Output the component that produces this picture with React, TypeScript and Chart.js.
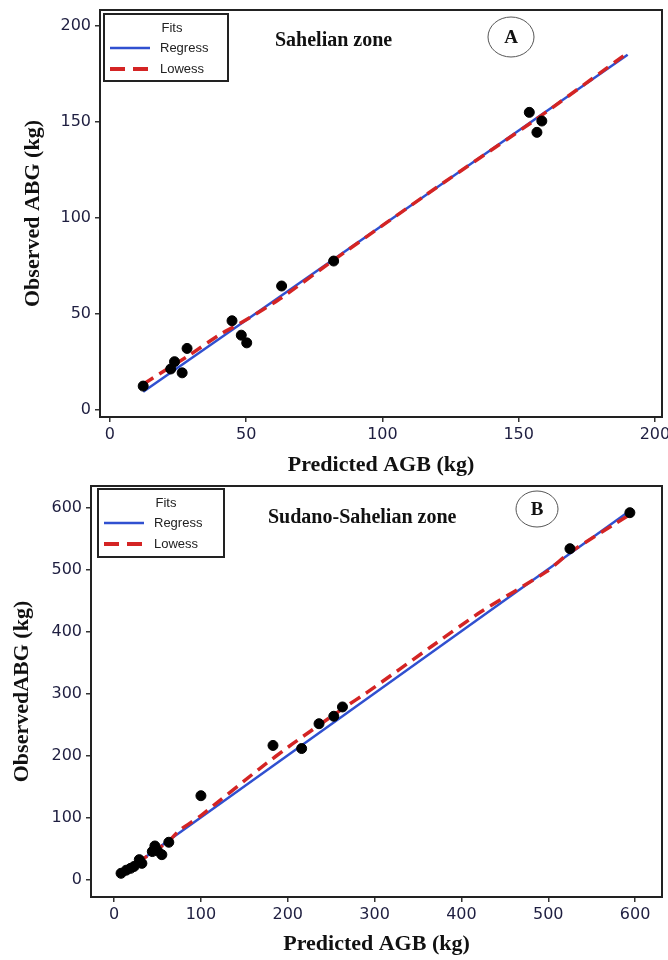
import React, { useEffect, useRef } from "react";
import { Chart, registerables } from "chart.js";

Chart.register(...registerables);

// ---- Panel A: Sahelian zone ----
const predA = [12.2, 22.3, 23.7, 26.5, 28.3, 44.8, 48.2, 50.2, 63, 82.1, 153.9, 156.7, 158.5];
const obsA = [12.5, 21.4, 25.2, 19.4, 32.1, 46.5, 39, 35, 64.6, 77.6, 155, 144.6, 150.5];
const regressAX = [12.2, 190];
const regressAY = [9.5, 185];
const lowessAX = [12.2, 20, 28, 40, 50, 63, 82, 120, 156, 190];
const lowessAY = [13.5, 20.5, 27.5, 39, 47, 58.5, 78, 116, 151, 186];
const ticksA = [0, 50, 100, 150, 200];

// ---- Panel B: Sudano-Sahelian zone ----
const predB = [8, 14, 19, 23, 29, 32, 44, 47, 50, 55, 63, 100, 183, 216, 236, 253, 263, 525, 594];
const obsB = [11, 16, 19, 22, 33, 27, 46, 55, 47, 41, 61, 136, 217, 212, 252, 264, 279, 534, 592];
const regressBX = [8, 594];
const regressBY = [9, 595];
const lowessBX = [8, 30, 63, 75, 100, 167, 205, 263, 293, 365, 422, 498, 525, 594];
const lowessBY = [12, 31, 63, 80, 104, 179, 219, 276, 304, 376, 432, 497, 528, 589];
const ticksB = [0, 100, 200, 300, 400, 500, 600];

const legendTitle = "Fits";
const legendLabels = ["Regress", "Lowess"];

const BLUE = "#3050d0";
const RED = "#d42424";
const TICK_COLOR = "#1e1e40";

const pts = (xs: number[], ys: number[]) => xs.map((x, i) => ({ x, y: ys[i] }));

const decorPlugin = {
  id: "decor",
  afterDraw(chart: any, _args: any, opts: any) {
    const ctx = chart.ctx;
    const ca = chart.chartArea;
    ctx.save();
    // frame
    ctx.strokeStyle = "#222";
    ctx.lineWidth = 2;
    ctx.strokeRect(ca.left, ca.top, ca.right - ca.left, ca.bottom - ca.top);

    // legend box
    const L = opts.legend;
    ctx.fillStyle = "#fff";
    ctx.fillRect(L.x, L.y, L.w, L.h);
    ctx.strokeStyle = "#222";
    ctx.lineWidth = 2;
    ctx.strokeRect(L.x, L.y, L.w, L.h);
    ctx.fillStyle = "#222";
    ctx.font = "13px 'Liberation Sans', Arial, sans-serif";
    ctx.textBaseline = "middle";
    ctx.textAlign = "center";
    ctx.fillText(legendTitle, L.x + 68, L.y + 14);
    ctx.textAlign = "left";
    // regress
    ctx.strokeStyle = BLUE;
    ctx.lineWidth = 2.5;
    ctx.setLineDash([]);
    ctx.beginPath();
    ctx.moveTo(L.x + 6, L.y + 34);
    ctx.lineTo(L.x + 46, L.y + 34);
    ctx.stroke();
    ctx.fillText(legendLabels[0], L.x + 56, L.y + 34);
    // lowess
    ctx.strokeStyle = RED;
    ctx.lineWidth = 4;
    ctx.setLineDash([15, 8]);
    ctx.beginPath();
    ctx.moveTo(L.x + 6, L.y + 55);
    ctx.lineTo(L.x + 46, L.y + 55);
    ctx.stroke();
    ctx.setLineDash([]);
    ctx.fillText(legendLabels[1], L.x + 56, L.y + 55);

    // zone title
    ctx.fillStyle = "#111";
    ctx.font = "bold 20px 'Liberation Serif', 'Times New Roman', serif";
    ctx.textAlign = "left";
    ctx.fillText(opts.title, opts.titleX, opts.titleY);

    // circled letter
    const C = opts.circle;
    ctx.strokeStyle = "#555";
    ctx.lineWidth = 1;
    ctx.beginPath();
    ctx.ellipse(C.x, C.y, C.rx, C.ry, 0, 0, Math.PI * 2);
    ctx.stroke();
    ctx.font = "bold 19px 'Liberation Serif', 'Times New Roman', serif";
    ctx.textAlign = "center";
    ctx.fillText(C.label, C.x, C.y + 1);
    ctx.restore();
  },
};

type PanelProps = {
  pred: number[];
  obs: number[];
  rX: number[];
  rY: number[];
  lX: number[];
  lY: number[];
  ticks: number[];
  xMin: number;
  xMax: number;
  yMin: number;
  yMax: number;
  yTitle: string;
  yWidth: number;
  yTitlePad: number;
  xTitlePad: number;
  padTop: number;
  padRight: number;
  decor: any;
};

function Panel(p: PanelProps) {
  const ref = useRef<HTMLCanvasElement | null>(null);
  useEffect(() => {
    if (!ref.current) return;
    const tickFont = { family: "'DejaVu Sans', Verdana, sans-serif", size: 16 };
    const titleFont = { family: "'Liberation Serif', 'Times New Roman', serif", size: 22, weight: "bold" as const };
    const chart = new Chart(ref.current, {
      type: "scatter",
      data: {
        datasets: [
          {
            type: "line",
            label: "Regress",
            data: pts(p.rX, p.rY),
            borderColor: BLUE,
            borderWidth: 2.5,
            pointRadius: 0,
            fill: false,
            tension: 0,
            order: 3,
          } as any,
          {
            type: "line",
            label: "Lowess",
            data: pts(p.lX, p.lY),
            borderColor: RED,
            borderWidth: 3.5,
            borderDash: [12, 7],
            pointRadius: 0,
            fill: false,
            tension: 0.2,
            order: 2,
          } as any,
          {
            label: "Observed",
            data: pts(p.pred, p.obs),
            backgroundColor: "#000",
            borderColor: "#000",
            pointRadius: 5,
            order: 1,
          },
        ],
      },
      options: {
        responsive: false,
        animation: false,
        layout: { padding: { left: 0, top: p.padTop, right: p.padRight, bottom: 0 } },
        plugins: {
          legend: { display: false },
          tooltip: { enabled: false },
          decor: p.decor,
        } as any,
        scales: {
          x: {
            type: "linear",
            min: p.xMin,
            max: p.xMax,
            afterFit: (s: any) => {
              s.height = 63;
              s.paddingLeft = 0;
              s.paddingRight = 0;
            },
            afterBuildTicks: (s: any) => {
              s.ticks = p.ticks.map((v) => ({ value: v }));
            },
            ticks: { color: TICK_COLOR, font: tickFont, padding: 3, maxRotation: 0 },
            grid: { drawOnChartArea: false, drawTicks: true, tickLength: 5, color: "#333", lineWidth: 1.5 },
            border: { display: false },
            title: {
              display: true,
              text: "Predicted AGB (kg)",
              color: "#111",
              font: titleFont,
              padding: { top: 0, bottom: p.xTitlePad },
            },
          },
          y: {
            type: "linear",
            min: p.yMin,
            max: p.yMax,
            afterFit: (s: any) => {
              s.width = p.yWidth;
              s.paddingTop = 0;
              s.paddingBottom = 0;
            },
            afterBuildTicks: (s: any) => {
              s.ticks = p.ticks.map((v) => ({ value: v }));
            },
            ticks: { color: TICK_COLOR, font: tickFont, padding: 4 },
            grid: { drawOnChartArea: false, drawTicks: true, tickLength: 5, color: "#333", lineWidth: 1.5 },
            border: { display: false },
            title: {
              display: true,
              text: p.yTitle,
              color: "#111",
              font: titleFont,
              padding: { top: p.yTitlePad, bottom: 0 },
            },
          },
        },
      },
      plugins: [decorPlugin as any],
    });
    return () => chart.destroy();
  }, []);
  return <canvas ref={ref} width={668} height={480} style={{ display: "block" }} />;
}

export default function App() {
  return (
    <div style={{ position: "absolute", left: 0, top: 0, width: 668, height: 960, background: "#fff" }}>
      <Panel
        pred={predA}
        obs={obsA}
        rX={regressAX}
        rY={regressAY}
        lX={lowessAX}
        lY={lowessAY}
        ticks={ticksA}
        xMin={-3.65}
        xMax={202.6}
        yMin={-3.6}
        yMax={208.3}
        yTitle="Observed ABG (kg)"
        yWidth={100}
        yTitlePad={20}
        xTitlePad={1}
        padTop={10}
        padRight={3}
        decor={{
          legend: { x: 104, y: 14, w: 124, h: 67 },
          title: "Sahelian zone",
          titleX: 275,
          titleY: 41,
          circle: { x: 511, y: 37, rx: 23, ry: 20, label: "A" },
        }}
      />
      <Panel
        pred={predB}
        obs={obsB}
        rX={regressBX}
        rY={regressBY}
        lX={lowessBX}
        lY={lowessBY}
        ticks={ticksB}
        xMin={-26.6}
        xMax={631}
        yMin={-27.2}
        yMax={635}
        yTitle="ObservedABG (kg)"
        yWidth={91}
        yTitlePad={9}
        xTitlePad={2}
        padTop={3}
        padRight={2}
        decor={{
          legend: { x: 98, y: 9, w: 126, h: 68 },
          title: "Sudano-Sahelian zone",
          titleX: 268,
          titleY: 38,
          circle: { x: 537, y: 29, rx: 21, ry: 18, label: "B" },
        }}
      />
    </div>
  );
}
